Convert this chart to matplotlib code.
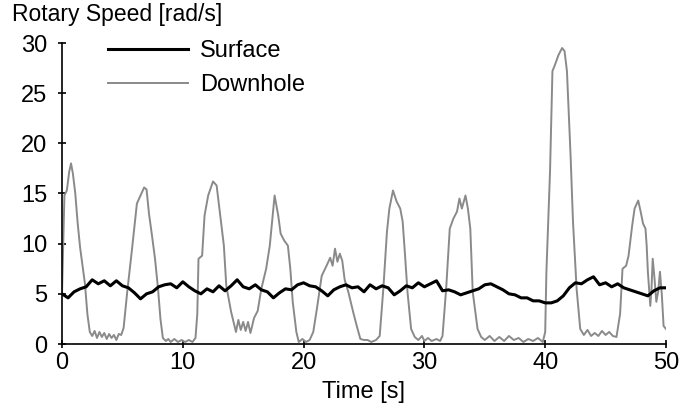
import numpy as np
import matplotlib.pyplot as plt

plt.rcParams['font.family'] = ['Liberation Sans', 'DejaVu Sans']

# surface speed, read every 0.5 s
surface_t = np.arange(0, 50.01, 0.5)
surface_v = [5.0, 4.6, 5.2, 5.5, 5.7, 6.4, 6.0, 6.3, 5.8, 6.3,
             5.8, 5.6, 5.1, 4.5, 5.0, 5.2, 5.7, 5.9, 6.0, 5.6,
             6.2, 5.7, 5.3, 5.0, 5.5, 5.2, 5.8, 5.3, 5.8, 6.4,
             5.7, 5.5, 5.9, 5.4, 5.2, 4.6, 5.1, 5.5, 5.4, 5.9,
             6.1, 5.8, 5.7, 5.3, 4.8, 5.4, 5.7, 5.9, 5.6, 5.7,
             5.2, 5.9, 5.5, 5.8, 5.6, 4.9, 5.3, 5.8, 5.6, 6.1,
             5.7, 6.0, 6.3, 5.3, 5.4, 5.2, 4.9, 5.1, 5.3, 5.5,
             5.9, 6.0, 5.7, 5.4, 5.0, 4.9, 4.6, 4.6, 4.3, 4.3,
             4.1, 4.1, 4.3, 4.8, 5.6, 6.1, 6.0, 6.4, 6.7, 5.9,
             6.1, 5.7, 6.0, 5.6, 5.4, 5.2, 5.0, 4.8, 5.3, 5.6,
             5.6]

# downhole speed
downhole_t = [0.0, 0.1, 0.2, 0.4, 0.6, 0.75, 0.9, 1.1, 1.3, 1.5, 1.7, 1.9, 2.1, 2.3,
              2.5, 2.7, 2.9, 3.1, 3.3, 3.5, 3.7, 3.9, 4.1, 4.3, 4.5, 4.7, 4.9, 5.1,
              5.4, 5.8, 6.2, 6.5, 6.8, 7.0, 7.2, 7.45, 7.7, 7.95, 8.15, 8.35, 8.6,
              8.8, 9.0, 9.3, 9.6, 9.9, 10.2, 10.5, 10.8, 11.05, 11.2, 11.3, 11.6,
              11.8, 12.1, 12.5, 12.8, 13.1, 13.4, 13.6, 14.0, 14.4, 14.6, 14.8,
              15.0, 15.2, 15.4, 15.6, 15.9, 16.2, 16.5, 16.9, 17.2, 17.6, 17.9,
              18.1, 18.4, 18.7, 18.9, 19.1, 19.4, 19.6, 19.9, 20.2, 20.5, 20.8,
              21.1, 21.5, 21.9, 22.2, 22.4, 22.6, 22.8, 23.0, 23.2, 23.4, 23.7,
              24.1, 24.4, 24.7, 25.0, 25.3, 25.6, 26.0, 26.3, 26.6, 26.9, 27.1,
              27.4, 27.7, 28.0, 28.2, 28.4, 28.6, 28.9, 29.2, 29.5, 29.8, 30.0,
              30.3, 30.6, 31.0, 31.3, 31.5, 31.8, 32.1, 32.4, 32.7, 32.9, 33.1,
              33.4, 33.6, 33.8, 34.0, 34.4, 34.7, 35.0, 35.4, 35.8, 36.2, 36.6,
              37.0, 37.4, 37.8, 38.2, 38.6, 39.0, 39.4, 39.8, 40.0, 40.1, 40.4,
              40.6, 40.8, 41.1, 41.4, 41.6, 41.8, 42.1, 42.3, 42.6, 42.9, 43.2,
              43.5, 43.8, 44.1, 44.4, 44.7, 45.0, 45.3, 45.6, 45.9, 46.2, 46.4,
              46.7, 46.9, 47.2, 47.4, 47.7, 47.9, 48.1, 48.3, 48.4, 48.5, 48.7,
              48.8, 48.9, 49.05, 49.2, 49.35, 49.5, 49.65, 49.8, 50.0]
downhole_v = [5.0, 10.0, 14.8, 15.3, 17.2, 18.0, 17.0, 15.0, 12.0, 9.6, 7.8, 6.0, 3.0, 1.2,
              0.8, 1.3, 0.6, 1.2, 0.7, 1.1, 0.5, 1.0, 0.6, 0.9, 0.4, 1.0, 0.9, 1.6,
              5.2, 9.5, 14.0, 14.8, 15.6, 15.4, 13.0, 10.8, 8.5, 5.5, 2.5, 0.6, 0.3,
              0.5, 0.2, 0.5, 0.2, 0.4, 0.2, 0.4, 0.2, 0.6, 3.0, 8.5, 8.8,
              12.8, 14.8, 16.2, 15.8, 12.8, 9.8, 5.8, 3.2, 1.2, 2.4, 1.4,
              2.2, 1.3, 2.2, 1.1, 2.6, 3.3, 5.5, 7.5, 9.8, 14.8, 12.8,
              11.0, 10.3, 9.8, 7.5, 4.2, 1.2, 0.2, 0.5, 0.2, 0.4, 1.2,
              3.5, 6.8, 7.8, 8.6, 7.8, 9.5, 8.2, 9.0, 8.3, 6.4, 5.2,
              3.2, 1.8, 0.5, 0.4, 0.4, 0.2, 0.4, 0.8, 5.5, 11.2, 13.5,
              15.3, 14.2, 13.5, 12.2, 8.8, 5.2, 1.5, 0.7, 0.4, 0.8, 0.3,
              0.6, 0.3, 0.5, 0.3, 0.8, 5.5, 11.5, 12.5, 13.2, 14.5, 13.5,
              14.8, 13.5, 11.5, 5.2, 1.5, 0.7, 0.4, 0.8, 0.3, 0.7, 0.3,
              0.8, 0.4, 0.6, 0.2, 0.5, 0.3, 0.6, 0.2, 1.2, 7.2, 17.2,
              27.2, 27.8, 28.8, 29.5, 29.2, 27.2, 18.8, 12.2, 5.5, 1.5, 0.9,
              1.4, 0.8, 1.1, 0.8, 1.3, 0.9, 1.2, 0.8, 0.7, 3.0, 7.5,
              7.8, 8.8, 11.8, 13.5, 14.3, 13.2, 12.0, 11.5, 9.8, 7.2, 3.8,
              5.5, 8.5, 6.5, 4.2, 5.2, 7.2, 5.0, 1.8, 1.5]

x_ticks = [0, 10, 20, 30, 40, 50]
y_ticks = [0, 5, 10, 15, 20, 25, 30]

fig = plt.figure(figsize=(6.97, 4.11), dpi=100)
ax = fig.add_axes([62/697, (411-344)/411, (666-62)/697, (344-43)/411])

ax.plot(surface_t, surface_v, color='black', lw=2.2, label='Surface', zorder=3)
ax.plot(downhole_t, downhole_v, color='#8a8a8a', lw=1.4, label='Downhole', zorder=2)

ax.set_xlim(0, 50)
ax.set_ylim(0, 30)
ax.set_xticks(x_ticks)
ax.set_yticks(y_ticks)
for s in ['top', 'right']:
    ax.spines[s].set_visible(False)
ax.spines['left'].set_linewidth(1.2)
ax.spines['bottom'].set_linewidth(1.2)
ax.tick_params(direction='inout', length=6, width=1.2, labelsize=17)
ax.tick_params(axis='y', pad=7.5)
ax.tick_params(axis='x', pad=2.5)

ax.set_xlabel('Time [s]', fontsize=17, labelpad=5)
fig.text(12/697, 1 - 15/411, 'Rotary Speed [rad/s]', fontsize=16.5, va='center', ha='left')

ax.legend(loc='upper left', bbox_to_anchor=(108/697, 1 - 40/411), bbox_transform=fig.transFigure,
          frameon=False, fontsize=17, borderpad=0, borderaxespad=0,
          handlelength=3.4, handletextpad=0.5, labelspacing=0.5)

plt.savefig('out.png', dpi=100)
